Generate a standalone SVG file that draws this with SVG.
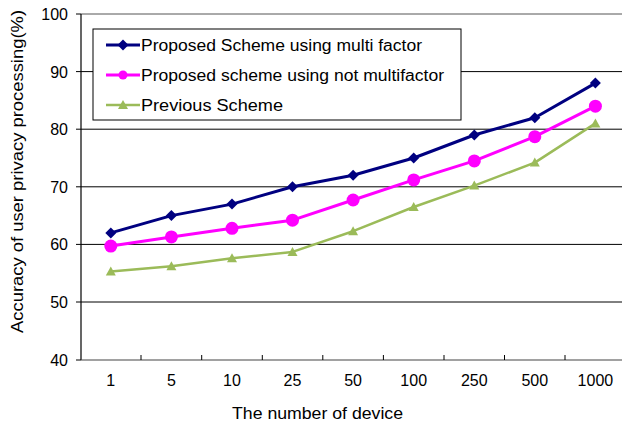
<svg xmlns="http://www.w3.org/2000/svg" xmlns:xlink="http://www.w3.org/1999/xlink" width="622" height="425" viewBox="0 0 622 425">
  <style>
    text { font-family: "Liberation Sans", Arial, sans-serif; font-size: 16px; fill: #000; }
    .grid { stroke: #000; stroke-width: 1; }
    .axis { stroke: #000; stroke-width: 1.2; fill: none; }
    .tick { stroke: #000; stroke-width: 1; }
    .s1 { stroke: #000080; stroke-width: 3; fill: none; stroke-linejoin: round; }
    .s2 { stroke: #FF00FF; stroke-width: 3; fill: none; stroke-linejoin: round; }
    .s3 { stroke: #9BBB59; stroke-width: 2.5; fill: none; stroke-linejoin: round; }
    .ylab { text-anchor: end; }
    .xlab { text-anchor: middle; }
  </style>
  <defs>
    <path id="diamond" d="M0,-5.5 L5.5,0 L0,5.5 L-5.5,0 Z" fill="#000080"/>
    <circle id="dot" r="6.5" fill="#FF00FF"/>
    <path id="tri" d="M0,-5 L5,4 L-5,4 Z" fill="#9BBB59"/>
  </defs>
  <rect width="622" height="425" fill="#fff"/>

  <!-- plot frame and gridlines -->
  <g id="grid">
    <line x1="81" y1="14" x2="622" y2="14" stroke="#555" stroke-width="1"/>
    <line class="grid" x1="81" y1="71.6" x2="622" y2="71.6"/>
    <line class="grid" x1="81" y1="129.2" x2="622" y2="129.2"/>
    <line class="grid" x1="81" y1="186.8" x2="622" y2="186.8"/>
    <line class="grid" x1="81" y1="244.4" x2="622" y2="244.4"/>
    <line class="grid" x1="81" y1="302" x2="622" y2="302"/>
  </g>
  <g id="axes">
    <line class="axis" x1="81" y1="14" x2="81" y2="360"/>
    <line x1="81" y1="360" x2="622" y2="360" stroke="#444" stroke-width="1.2"/>
    <!-- y ticks -->
    <line class="tick" x1="76" y1="14" x2="81" y2="14"/>
    <line class="tick" x1="76" y1="71.6" x2="81" y2="71.6"/>
    <line class="tick" x1="76" y1="129.2" x2="81" y2="129.2"/>
    <line class="tick" x1="76" y1="186.8" x2="81" y2="186.8"/>
    <line class="tick" x1="76" y1="244.4" x2="81" y2="244.4"/>
    <line class="tick" x1="76" y1="302" x2="81" y2="302"/>
    <line class="tick" x1="76" y1="360" x2="81" y2="360"/>
    <!-- x ticks -->
    <line class="tick" x1="141" y1="355" x2="141" y2="360"/>
    <line class="tick" x1="201.7" y1="355" x2="201.7" y2="360"/>
    <line class="tick" x1="262.3" y1="355" x2="262.3" y2="360"/>
    <line class="tick" x1="322.8" y1="355" x2="322.8" y2="360"/>
    <line class="tick" x1="383.4" y1="355" x2="383.4" y2="360"/>
    <line class="tick" x1="444" y1="355" x2="444" y2="360"/>
    <line class="tick" x1="504.5" y1="355" x2="504.5" y2="360"/>
    <line class="tick" x1="565" y1="355" x2="565" y2="360"/>
  </g>

  <!-- axis labels -->
  <g id="y-labels">
    <text class="ylab" x="68" y="20">100</text>
    <text class="ylab" x="68" y="77.6">90</text>
    <text class="ylab" x="68" y="135.2">80</text>
    <text class="ylab" x="68" y="192.8">70</text>
    <text class="ylab" x="68" y="250.4">60</text>
    <text class="ylab" x="68" y="308">50</text>
    <text class="ylab" x="68" y="365.6">40</text>
  </g>
  <g id="x-labels">
    <text class="xlab" x="110.8" y="386">1</text>
    <text class="xlab" x="171.4" y="386">5</text>
    <text class="xlab" x="232" y="386">10</text>
    <text class="xlab" x="292.5" y="386">25</text>
    <text class="xlab" x="353.1" y="386">50</text>
    <text class="xlab" x="413.7" y="386">100</text>
    <text class="xlab" x="474.3" y="386">250</text>
    <text class="xlab" x="534.8" y="386">500</text>
    <text class="xlab" x="595.4" y="386">1000</text>
  </g>
  <text id="x-title" x="232" y="419" textLength="171" lengthAdjust="spacingAndGlyphs">The number of device</text>
  <text id="y-title" transform="translate(23,333) rotate(-90)" x="0" y="0" textLength="323" lengthAdjust="spacingAndGlyphs">Accuracy of user privacy processing(%)</text>

  <!-- data series -->
  <g id="connectors">
    <polyline class="s3" points="110.8,271.5 171.4,266.3 232,258.2 292.5,251.9 353.1,231.2 413.7,207 474.3,185.6 534.8,162.6 595.4,123.4"/>
    <polyline class="s2" points="110.8,246.1 171.4,236.9 232,228.3 292.5,220.2 353.1,200 413.7,179.9 474.3,160.9 534.8,136.7 595.4,106.2"/>
    <polyline class="s1" points="110.8,232.9 171.4,215.6 232,204.1 292.5,186.8 353.1,175.3 413.7,158 474.3,135 534.8,117.7 595.4,83.1"/>
  </g>
  <g id="series-previous">
    <use xlink:href="#tri" x="110.8" y="271.5"/>
    <use xlink:href="#tri" x="171.4" y="266.3"/>
    <use xlink:href="#tri" x="232" y="258.2"/>
    <use xlink:href="#tri" x="292.5" y="251.9"/>
    <use xlink:href="#tri" x="353.1" y="231.2"/>
    <use xlink:href="#tri" x="413.7" y="207"/>
    <use xlink:href="#tri" x="474.3" y="185.6"/>
    <use xlink:href="#tri" x="534.8" y="162.6"/>
    <use xlink:href="#tri" x="595.4" y="123.4"/>
  </g>
  <g id="series-not-multifactor">
    <use xlink:href="#dot" x="110.8" y="246.1"/>
    <use xlink:href="#dot" x="171.4" y="236.9"/>
    <use xlink:href="#dot" x="232" y="228.3"/>
    <use xlink:href="#dot" x="292.5" y="220.2"/>
    <use xlink:href="#dot" x="353.1" y="200"/>
    <use xlink:href="#dot" x="413.7" y="179.9"/>
    <use xlink:href="#dot" x="474.3" y="160.9"/>
    <use xlink:href="#dot" x="534.8" y="136.7"/>
    <use xlink:href="#dot" x="595.4" y="106.2"/>
  </g>
  <g id="series-multifactor">
    <use xlink:href="#diamond" x="110.8" y="232.9"/>
    <use xlink:href="#diamond" x="171.4" y="215.6"/>
    <use xlink:href="#diamond" x="232" y="204.1"/>
    <use xlink:href="#diamond" x="292.5" y="186.8"/>
    <use xlink:href="#diamond" x="353.1" y="175.3"/>
    <use xlink:href="#diamond" x="413.7" y="158"/>
    <use xlink:href="#diamond" x="474.3" y="135"/>
    <use xlink:href="#diamond" x="534.8" y="117.7"/>
    <use xlink:href="#diamond" x="595.4" y="83.1"/>
  </g>

  <!-- legend -->
  <g id="legend">
    <rect x="93" y="29" width="368" height="91" fill="#fff" stroke="#000" stroke-width="1"/>
    <line class="s1" x1="106" y1="45" x2="140" y2="45"/>
    <use xlink:href="#diamond" x="123" y="45" transform="translate(0,0)"/>
    <text x="141" y="51" textLength="281" lengthAdjust="spacingAndGlyphs">Proposed Scheme using multi factor</text>
    <line class="s2" x1="106" y1="75" x2="140" y2="75"/>
    <circle cx="123" cy="75" r="4.5" fill="#FF00FF"/>
    <text x="141" y="81" textLength="303" lengthAdjust="spacingAndGlyphs">Proposed scheme using not multifactor</text>
    <line class="s3" x1="106" y1="105" x2="140" y2="105"/>
    <use xlink:href="#tri" x="123" y="105"/>
    <text x="141" y="111" textLength="142" lengthAdjust="spacingAndGlyphs">Previous Scheme</text>
  </g>
</svg>
